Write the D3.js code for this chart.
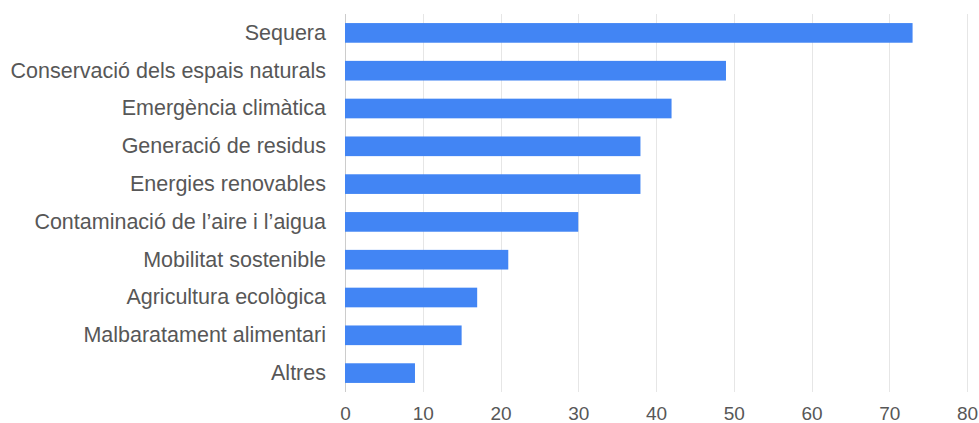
<!DOCTYPE html>
<html>
<head>
<meta charset="utf-8">
<script src="https://cdn.jsdelivr.net/npm/d3@7"></script>
<style>
  body { margin: 0; background: #fff; }
  #chart text { font-family: "Liberation Sans", Arial, sans-serif; fill: #575757; }
</style>
</head>
<body>
<div id="chart"></div>
<script>
var categories = [ 'Sequera', 'Conservació dels espais naturals', 'Emergència climàtica',
  'Generació de residus', 'Energies renovables', 'Contaminació de l’aire i l’aigua',
  'Mobilitat sostenible', 'Agricultura ecològica', 'Malbaratament alimentari', 'Altres' ];
var values = [ 73, 49, 42, 38, 38, 30, 21, 17, 15, 9 ];
var xTicks = [ 0, 10, 20, 30, 40, 50, 60, 70, 80 ];

var width = 979, height = 423;
var margin = { top: 14, right: 12, bottom: 31, left: 345 };
var iWidth = width - margin.left - margin.right,
  iHeight = height - margin.top - margin.bottom;

var svg = d3.select( '#chart' ).append( 'svg' )
  .attr( 'width', width )
  .attr( 'height', height );

var g = svg.append( 'g' )
  .attr( 'transform', 'translate(' + margin.left + ',' + margin.top + ')' );

var xScale = d3.scaleLinear().domain( [ 0, 80 ] ).range( [ 0, iWidth ] );
var yScale = d3.scaleBand().domain( categories ).range( [ 0, iHeight ] ).paddingInner( 0.48 ).paddingOuter( 0.24 );

// gridlines
g.selectAll( '.grid' )
  .data( xTicks )
  .enter()
  .append( 'line' )
    .attr( 'x1', d => Math.round( xScale( d ) ) + 0.5 )
    .attr( 'x2', d => Math.round( xScale( d ) ) + 0.5 )
    .attr( 'y1', 0 )
    .attr( 'y2', iHeight )
    .attr( 'stroke', d => d === 0 ? '#cccccc' : '#e6e6e6' )
    .attr( 'stroke-width', 1 );

g.selectAll( '.bar' )
  .data( values )
  .enter()
  .append( 'rect' )
    .attr( 'class', 'bar' )
    .attr( 'x', 0 )
    .attr( 'y', ( d, i ) => yScale( categories[ i ] ) )
    .attr( 'width', d => xScale( d ) )
    .attr( 'height', yScale.bandwidth() )
    .attr( 'fill', '#4285f4' );

// category labels
var yAxis = g.append( 'g' )
  .call( d3.axisLeft( yScale ).tickSize( 0 ).tickPadding( 19 ) );
yAxis.select( '.domain' ).remove();
yAxis.selectAll( 'text' ).style( 'font-size', '21.5px' );

// x tick labels
var xAxis = g.append( 'g' )
  .attr( 'transform', 'translate(0,' + iHeight + ')' )
  .call( d3.axisBottom( xScale ).tickValues( xTicks ).tickSize( 0 ).tickPadding( 15 ) );
xAxis.select( '.domain' ).remove();
xAxis.selectAll( 'text' ).style( 'font-size', '19px' );
</script>
</body>
</html>
